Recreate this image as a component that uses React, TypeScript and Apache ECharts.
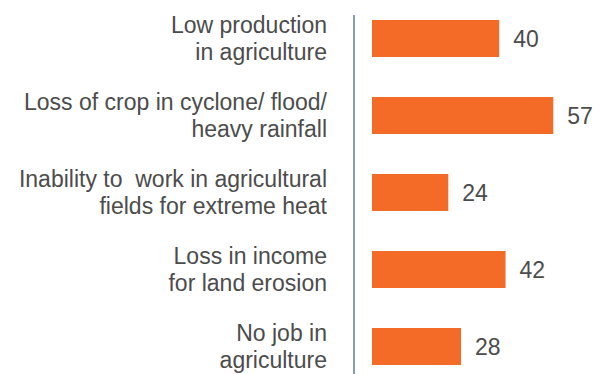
import React, { useEffect, useRef } from "react";
import * as echarts from "echarts";

const categories = [
  "Low production\nin agriculture",
  "Loss of crop in cyclone/ flood/\nheavy rainfall",
  "Inability to  work in agricultural\nfields for extreme heat",
  "Loss in income\nfor land erosion",
  "No job in\nagriculture",
];
const values = [40, 57, 24, 42, 28];

export default function App() {
  const ref = useRef<HTMLDivElement>(null);
  useEffect(() => {
    if (!ref.current) return;
    const chart = echarts.init(ref.current, null, { renderer: "svg" });
    const font = "'Liberation Sans', Arial, Helvetica, sans-serif";
    chart.setOption({
      animation: false,
      backgroundColor: "#ffffff",
      grid: { left: 372, top: 0, right: 11, height: 385 },
      xAxis: { type: "value", min: 0, max: 69.5, show: false },
      yAxis: {
        type: "category",
        data: categories,
        inverse: true,
        axisLine: { show: false },
        axisTick: { show: false },
        splitLine: { show: false },
        axisLabel: {
          margin: 45,
          align: "right",
          fontSize: 23,
          lineHeight: 27,
          color: "#4c4c4c",
          fontFamily: font,
        },
      },
      graphic: [
        {
          type: "line",
          shape: { x1: 354, y1: 15, x2: 354, y2: 380 },
          style: { stroke: "#5b7fae", lineWidth: 1.5 },
        },
      ],
      series: [
        {
          type: "bar",
          data: values,
          barWidth: 37,
          itemStyle: { color: "#F46A27" },
          label: {
            show: true,
            position: "right",
            distance: 14,
            fontSize: 23,
            color: "#4c4c4c",
            fontFamily: font,
          },
        },
      ],
    });
    return () => chart.dispose();
  }, []);
  return (
    <div
      ref={ref}
      style={{ position: "fixed", left: 0, top: 0, width: 604, height: 386 }}
    />
  );
}
